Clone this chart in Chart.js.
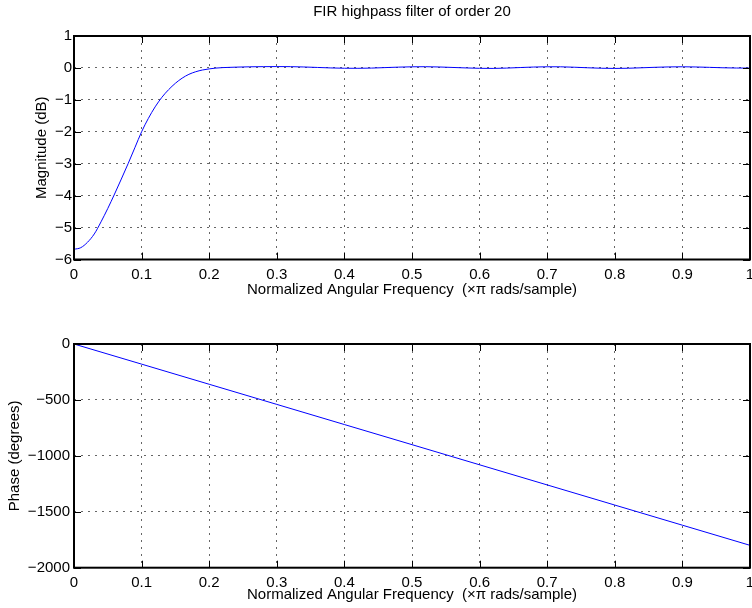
<!DOCTYPE html>
<html>
<head>
<meta charset="utf-8">
<script src="https://cdn.jsdelivr.net/npm/chart.js@4.4.0/dist/chart.umd.min.js"></script>
<style>
body{margin:0;background:#fff;}
#wrap{position:relative;width:752px;height:608px;}
canvas{position:absolute;left:0;}
</style>
</head>
<body>
<div id="wrap">
<canvas id="magChart" width="752" height="304" style="top:0;width:752px;height:304px"></canvas>
<canvas id="phaseChart" width="752" height="304" style="top:304px;width:752px;height:304px"></canvas>
</div>
<script>
const freq = [0,0.01,0.02,0.03,0.04,0.05,0.06,0.07,0.08,0.09,0.10,0.11,0.12,0.13,0.14,0.15,0.16,0.17,0.18,0.19,0.20,0.21,0.22,0.24,0.26,0.28,0.30,0.32,0.34,0.36,0.38,0.40,0.42,0.44,0.46,0.48,0.50,0.52,0.54,0.56,0.58,0.60,0.62,0.64,0.66,0.68,0.70,0.72,0.74,0.76,0.78,0.80,0.82,0.84,0.86,0.88,0.90,0.92,0.94,0.96,0.98,1.00];
const magDb = [-5.68,-5.63,-5.46,-5.20,-4.82,-4.40,-3.95,-3.48,-3.00,-2.50,-2.00,-1.58,-1.22,-0.92,-0.68,-0.48,-0.32,-0.20,-0.12,-0.065,-0.03,-0.005,0.01,0.025,0.035,0.04,0.042,0.04,0.03,0.015,0.0,-0.01,-0.012,-0.005,0.01,0.025,0.035,0.038,0.03,0.015,0.0,-0.012,-0.015,-0.005,0.012,0.028,0.036,0.035,0.022,0.005,-0.01,-0.015,-0.01,0.005,0.02,0.032,0.036,0.03,0.018,0.005,-0.003,-0.005];
const phaseFreq = [0,0.1,0.2,0.3,0.4,0.5,0.6,0.7,0.8,0.9,1.0];
const phaseDeg = [0,-180,-360,-540,-720,-900,-1080,-1260,-1440,-1620,-1800];

const titleText = "FIR highpass filter of order 20";
const xLabel = "Normalized Angular Frequency  (\u00d7\u03c0 rads/sample)";

const FONT = "'Liberation Sans', Arial, Helvetica, sans-serif";

// box round the plot with inward ticks on all four sides
const boxPlugin = {
  id: "box",
  afterDraw(chart) {
    const {ctx, chartArea: a, scales} = chart;
    ctx.save();
    ctx.strokeStyle = "#000";
    ctx.lineWidth = 1;
    ctx.beginPath();
    scales.x.ticks.forEach(t => {
      const px = Math.round(scales.x.getPixelForValue(t.value)) + 0.5;
      ctx.moveTo(px, a.bottom); ctx.lineTo(px, a.bottom - 7);
      ctx.moveTo(px, a.top); ctx.lineTo(px, a.top + 7);
    });
    scales.y.ticks.forEach(t => {
      const py = Math.round(scales.y.getPixelForValue(t.value)) + 0.5;
      ctx.moveTo(a.left, py); ctx.lineTo(a.left + 7, py);
      ctx.moveTo(a.right, py); ctx.lineTo(a.right - 7, py);
    });
    ctx.stroke();
    ctx.lineWidth = 2;
    ctx.strokeRect(a.left, a.top, a.right - a.left, a.bottom - a.top);
    ctx.restore();
  }
};

const minus = v => String(v).replace("-", "\u2212");

function makeOptions(o) {
  return {
    responsive: false,
    animation: false,
    layout: {padding: {top: o.padTop, right: 2, left: 0, bottom: 0}},
    plugins: {
      legend: {display: false},
      tooltip: {enabled: false},
      title: o.title ? {
        display: true, text: o.title, color: "#000", fullSize: false,
        font: {family: FONT, size: 15, weight: "normal"},
        padding: {top: 2.5, bottom: 15.5}
      } : {display: false}
    },
    elements: {point: {radius: 0}, line: {tension: 0.4, cubicInterpolationMode: "monotone"}},
    scales: {
      x: {
        type: "linear", min: 0, max: 1,
        ticks: {
          stepSize: 0.1, padding: 6, color: "#000", maxRotation: 0,
          font: {family: FONT, size: 15},
          callback: v => (v === 0 || v === 1) ? String(v) : v.toFixed(1)
        },
        grid: {color: "#666", lineWidth: 1, drawTicks: false},
        border: {display: false, dash: [2, 5]},
        title: {
          display: true, text: xLabel, color: "#000",
          font: {family: FONT, size: 15},
          padding: {top: 0, bottom: o.xTitlePad}
        },
        afterFit: s => { s.height = o.xHeight; s.paddingLeft = 0; s.paddingRight = 0; }
      },
      y: {
        min: o.yMin, max: o.yMax,
        ticks: {
          stepSize: o.yStep, padding: o.yTickPad, color: "#000",
          font: {family: FONT, size: 15},
          callback: v => minus(v)
        },
        grid: {color: "#666", lineWidth: 1, drawTicks: false},
        border: {display: false, dash: [2, 5]},
        title: {
          display: true, text: o.yLabel, color: "#000",
          font: {family: FONT, size: 15},
          padding: {top: o.yTitlePad, bottom: 0}
        },
        afterFit: s => { s.width = 74; s.paddingTop = 0; s.paddingBottom = 0; }
      }
    }
  };
}

new Chart(document.getElementById("magChart"), {
  type: "line",
  data: {
    datasets: [{
      data: freq.map((f, i) => ({x: f, y: magDb[i]})),
      borderColor: "#0000ff", borderWidth: 1, fill: false
    }]
  },
  options: makeOptions({
    padTop: 0, title: titleText, yMin: -6, yMax: 1, yStep: 1,
    yLabel: "Magnitude (dB)", yTitlePad: 33, yTickPad: 2,
    xHeight: 44.5, xTitlePad: 5
  }),
  plugins: [boxPlugin]
});

new Chart(document.getElementById("phaseChart"), {
  type: "line",
  data: {
    datasets: [{
      data: phaseFreq.map((f, i) => ({x: f, y: phaseDeg[i]})),
      borderColor: "#0000ff", borderWidth: 1, fill: false
    }]
  },
  options: makeOptions({
    padTop: 40, title: null, yMin: -2000, yMax: 0, yStep: 500,
    yLabel: "Phase (degrees)", yTitlePad: 6, yTickPad: 4,
    xHeight: 40.3, xTitlePad: 4
  }),
  plugins: [boxPlugin]
});
</script>
</body>
</html>
